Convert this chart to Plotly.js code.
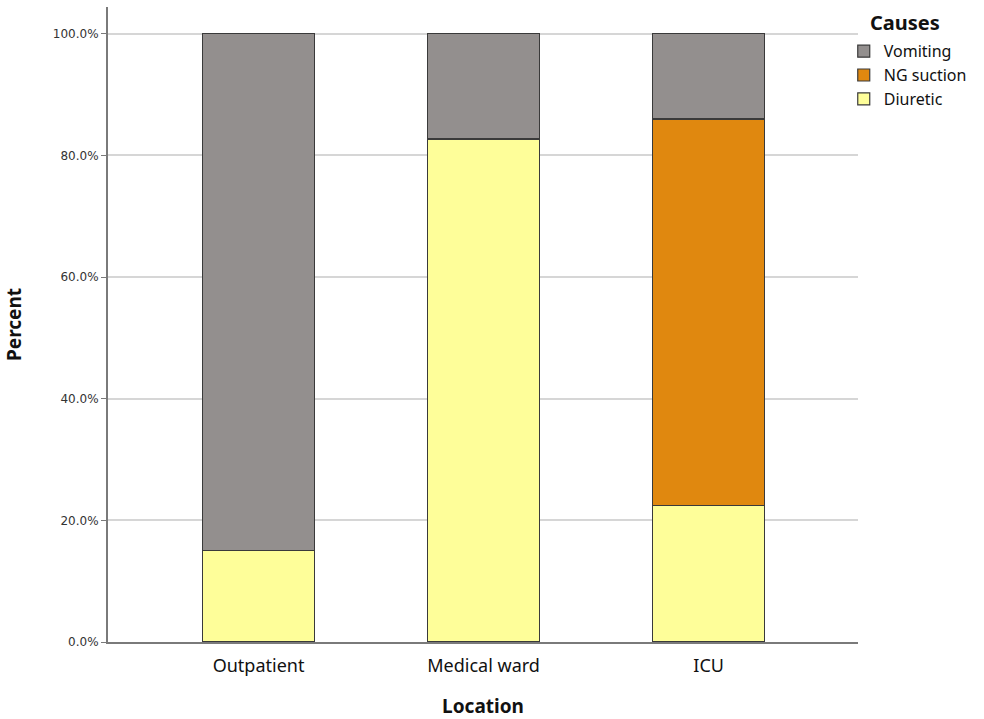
<!DOCTYPE html>
<html>
<head>
<meta charset="utf-8">
<script src="https://cdn.plot.ly/plotly-3.0.1.min.js"></script>
<style>html,body{margin:0;padding:0;background:#fff;}#chart{width:984px;height:719px;}</style>
</head>
<body>
<div id="chart"></div>
<script>
const locations = ["Outpatient", "Medical ward", "ICU"];
const diuretic = [15.0, 82.7, 22.4];
const ngSuction = [0, 0, 63.6];
const vomiting = [85.0, 17.3, 14.0];
const yTickVals = [0, 20, 40, 60, 80, 100];
const yTickText = ["0.0%", "20.0%", "40.0%", "60.0%", "80.0%", "100.0%"];
const legendTitle = "Causes";

const outline = {color: "#3a3a3a", width: 1.2};
const traces = [
  {type: "bar", name: "Diuretic", x: locations, y: diuretic, marker: {color: "#fefe99", line: outline}, width: 0.5},
  {type: "bar", name: "NG suction", x: locations, y: ngSuction, marker: {color: "#e0880f", line: outline}, width: 0.5},
  {type: "bar", name: "Vomiting", x: locations, y: vomiting, marker: {color: "#938f8e", line: outline}, width: 0.5}
];

const layout = {
  width: 984, height: 719,
  barmode: "stack",
  margin: {l: 108, r: 126, t: 7, b: 77, autoexpand: false},
  paper_bgcolor: "#fff", plot_bgcolor: "#fff",
  font: {family: "DejaVu Sans, sans-serif", color: "#222"},
  xaxis: {
    range: [-0.669, 2.664],
    showline: true, linecolor: "#7a7a7a", linewidth: 2,
    ticks: "outside", ticklen: 6, tickcolor: "rgba(0,0,0,0)",
    showgrid: false,
    tickfont: {family: "Noto Sans, sans-serif", size: 18, color: "#111"},
    title: {text: "<b>Location</b>", font: {family: "Noto Sans, sans-serif", size: 19, color: "#111"}, standoff: 24}
  },
  yaxis: {
    range: [0, 104.4],
    tickvals: yTickVals, ticktext: yTickText,
    showline: true, linecolor: "#7a7a7a", linewidth: 2,
    ticks: "outside", ticklen: 5, tickcolor: "#7a7a7a",
    showgrid: true, gridcolor: "#d6d6d6", gridwidth: 2,
    zeroline: false,
    tickfont: {family: "DejaVu Sans, sans-serif", size: 12, color: "#333"},
    title: {text: "<b>Percent</b>", font: {family: "Noto Sans, sans-serif", size: 19, color: "#111"}, standoff: 26}
  },
  showlegend: true,
  legend: {
    x: 0.981, xanchor: "left", y: 0.957, yanchor: "top",
    traceorder: "reversed",
    font: {family: "Noto Sans, sans-serif", size: 16, color: "#111"},
    itemwidth: 30, tracegroupgap: 0,
    bgcolor: "rgba(0,0,0,0)"
  },
  annotations: [{
    text: "<b>" + legendTitle + "</b>", xref: "paper", yref: "paper",
    x: 1.013, xanchor: "left", y: 0.976, yanchor: "middle", showarrow: false,
    font: {family: "Noto Sans, sans-serif", size: 20, color: "#111"}
  }]
};

Plotly.newPlot("chart", traces, layout, {displayModeBar: false});
</script>
</body>
</html>
